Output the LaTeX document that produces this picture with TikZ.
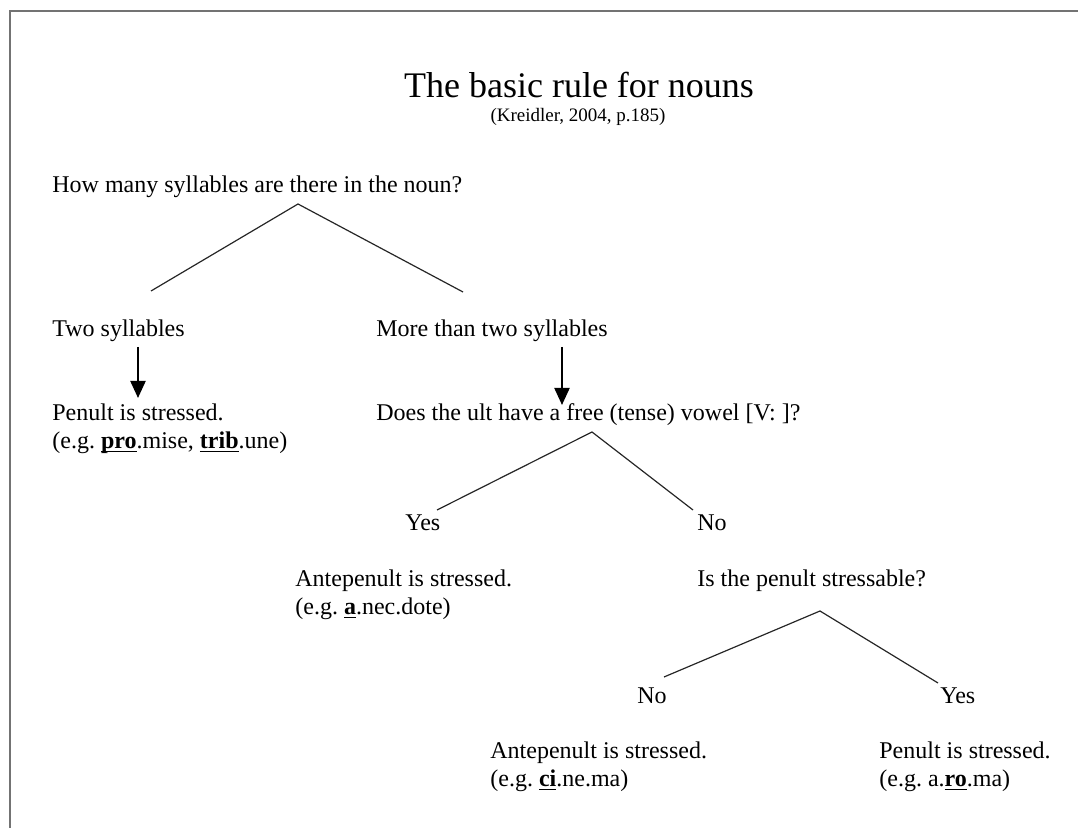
\documentclass[tikz,border=0pt]{standalone}
\usepackage{fontspec}
\setmainfont{Liberation Serif}
\usetikzlibrary{arrows.meta}
\newcommand{\stressed}[1]{\underline{\smash{\textbf{#1}}}}
\begin{document}
\begin{tikzpicture}[x=0.5pt,y=-0.5pt,
  txt/.style={anchor=base west,inner sep=0pt,font=\fontsize{12}{14}\selectfont},
  branch/.style={draw=black!85,line width=0.6pt},
  downarrow/.style={draw=black,line width=1.1pt,-{Triangle[width=7.5pt,length=8.5pt]}},
  frame/.style={draw=black!55,line width=1.2pt}]
\useasboundingbox (0,0) rectangle (1078,828);
\draw[frame] (10,828) -- (10,11) -- (1078,11);

\node[anchor=base,inner sep=0pt,font=\fontsize{18}{20}\selectfont] (title) at (579,98) {The basic rule for nouns};
\node[anchor=base,inner sep=0pt,font=\fontsize{9.5}{11}\selectfont] (src) at (578,122) {(Kreidler, 2004, p.185)};

\node[txt] (q1) at (52,193) {How many syllables are there in the noun?};
\node[txt] (two) at (52,337) {Two syllables};
\node[txt] (more) at (376,337) {More than two syllables};
\node[txt] (pen1) at (52,421) {Penult is stressed.};
\node[txt] (pen1ex) at (52,449) {(e.g.\ \stressed{pro}.mise, \stressed{trib}.une)};
\node[txt] (q2) at (376,421) {Does the ult have a free (tense) vowel [V: ]?};
\node[txt] (yes1) at (405,531) {Yes};
\node[txt] (no1) at (697,531) {No};
\node[txt] (ante1) at (295,587) {Antepenult is stressed.};
\node[txt] (ante1ex) at (295,615) {(e.g.\ \stressed{a}.nec.dote)};
\node[txt] (q3) at (697,587) {Is the penult stressable?};
\node[txt] (no2) at (637,704) {No};
\node[txt] (yes2) at (940,704) {Yes};
\node[txt] (ante2) at (490,759) {Antepenult is stressed.};
\node[txt] (ante2ex) at (490,787) {(e.g.\ \stressed{ci}.ne.ma)};
\node[txt] (pen2) at (879,759) {Penult is stressed.};
\node[txt] (pen2ex) at (879,787) {(e.g.\ a.\stressed{ro}.ma)};

% branch points
\coordinate (q1tip) at (298,204);
\coordinate (q1l) at (151,291);
\coordinate (q1r) at (463,292);
\coordinate (q2tip) at (592,432);
\coordinate (q2l) at (437,510);
\coordinate (q2r) at (693,510);
\coordinate (q3tip) at (820,611);
\coordinate (q3l) at (664,677);
\coordinate (q3r) at (938,683);
\coordinate (a1s) at (138,347);
\coordinate (a1e) at (138,398);
\coordinate (a2s) at (562,347);
\coordinate (a2e) at (562,405);

\draw[branch] (q1l) -- (q1tip) -- (q1r);
\draw[branch] (q2l) -- (q2tip) -- (q2r);
\draw[branch] (q3l) -- (q3tip) -- (q3r);
\draw[downarrow] (a1s) -- (a1e);
\draw[downarrow] (a2s) -- (a2e);
\end{tikzpicture}
\end{document}
